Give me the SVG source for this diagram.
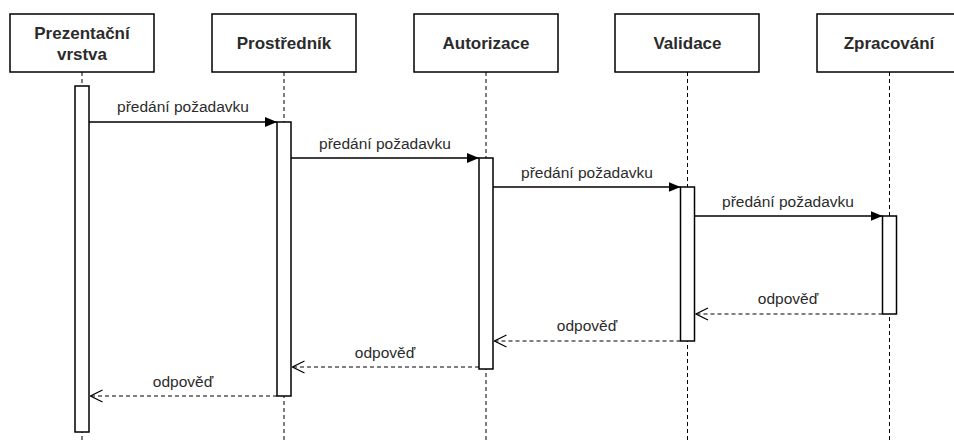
<svg xmlns="http://www.w3.org/2000/svg" width="954" height="443" viewBox="0 0 954 443">
  <style>
    .head { fill: #ffffff; stroke: #000000; stroke-width: 1.5; }
    .head-text { font-family: "Liberation Sans", Arial, sans-serif; font-size: 17px; font-weight: bold; fill: #2b2b2b; text-anchor: middle; }
    .life { stroke: #000000; stroke-width: 1; stroke-dasharray: 4 3; fill: none; }
    .act { fill: #ffffff; stroke: #000000; stroke-width: 1.5; }
    .call { stroke: #000000; stroke-width: 1.5; fill: none; marker-end: url(#solid); }
    .ret { stroke: #000000; stroke-width: 1; stroke-dasharray: 4 3; fill: none; marker-end: url(#open); }
    .lbl { font-family: "Liberation Sans", Arial, sans-serif; font-size: 15.5px; fill: #2b2b2b; text-anchor: middle; }
  </style>
  <defs>
    <!-- filled head for synchronous calls -->
    <marker id="solid" viewBox="0 0 12 10" refX="12" refY="5" markerWidth="12" markerHeight="10" markerUnits="userSpaceOnUse" orient="auto">
      <path d="M0,0 L12,5 L0,10 Z" fill="#000000"/>
    </marker>
    <!-- open head for replies -->
    <marker id="open" viewBox="0 0 14 14" refX="13" refY="7" markerWidth="14" markerHeight="14" markerUnits="userSpaceOnUse" orient="auto">
      <path d="M1,1 L13,7 L1,13" fill="none" stroke="#000000" stroke-width="1.2"/>
    </marker>
  </defs>

  <rect width="954" height="443" fill="#ffffff"/>

  <!-- lifelines -->
  <g id="lifelines">
    <line class="life" x1="82" y1="72" x2="82" y2="443"/>
    <line class="life" x1="284" y1="72" x2="284" y2="443"/>
    <line class="life" x1="486" y1="72" x2="486" y2="443"/>
    <line class="life" x1="687.5" y1="72" x2="687.5" y2="443"/>
    <line class="life" x1="889.5" y1="72" x2="889.5" y2="443"/>
  </g>

  <!-- participants -->
  <g id="prezentacni-vrstva">
    <rect class="head" x="10" y="14" width="144" height="58"/>
    <text class="head-text" x="82" y="39">Prezentační</text>
    <text class="head-text" x="82" y="60">vrstva</text>
    <rect class="act" x="75" y="86" width="14" height="346"/>
  </g>
  <g id="prostrednik">
    <rect class="head" x="212" y="14" width="144" height="58"/>
    <text class="head-text" x="284" y="49">Prostředník</text>
    <rect class="act" x="277" y="122" width="14" height="274"/>
  </g>
  <g id="autorizace">
    <rect class="head" x="414" y="14" width="144" height="58"/>
    <text class="head-text" x="486" y="49">Autorizace</text>
    <rect class="act" x="479" y="158" width="14" height="211"/>
  </g>
  <g id="validace">
    <rect class="head" x="615" y="14" width="144" height="58"/>
    <text class="head-text" x="687.5" y="49">Validace</text>
    <rect class="act" x="680.5" y="187" width="14" height="154"/>
  </g>
  <g id="zpracovani">
    <rect class="head" x="817" y="14" width="144" height="58"/>
    <text class="head-text" x="889" y="49">Zpracování</text>
    <rect class="act" x="882.5" y="216" width="14" height="98"/>
  </g>

  <!-- messages -->
  <g id="connectors">
    <line class="call" x1="89" y1="122" x2="277" y2="122"/>
    <text class="lbl" x="183" y="112">předání požadavku</text>

    <line class="call" x1="291" y1="158" x2="479" y2="158"/>
    <text class="lbl" x="385" y="149">předání požadavku</text>

    <line class="call" x1="493" y1="187" x2="680.5" y2="187"/>
    <text class="lbl" x="587" y="178">předání požadavku</text>

    <line class="call" x1="694.5" y1="216" x2="882.5" y2="216"/>
    <text class="lbl" x="788" y="207">předání požadavku</text>

    <line class="ret" x1="882.5" y1="314" x2="696" y2="314"/>
    <text class="lbl" x="788" y="304">odpověď</text>

    <line class="ret" x1="680.5" y1="341" x2="494.5" y2="341"/>
    <text class="lbl" x="587" y="331">odpověď</text>

    <line class="ret" x1="479" y1="367" x2="292.5" y2="367"/>
    <text class="lbl" x="385" y="358">odpověď</text>

    <line class="ret" x1="277" y1="396" x2="90.5" y2="396"/>
    <text class="lbl" x="183" y="387">odpověď</text>
  </g>
</svg>
